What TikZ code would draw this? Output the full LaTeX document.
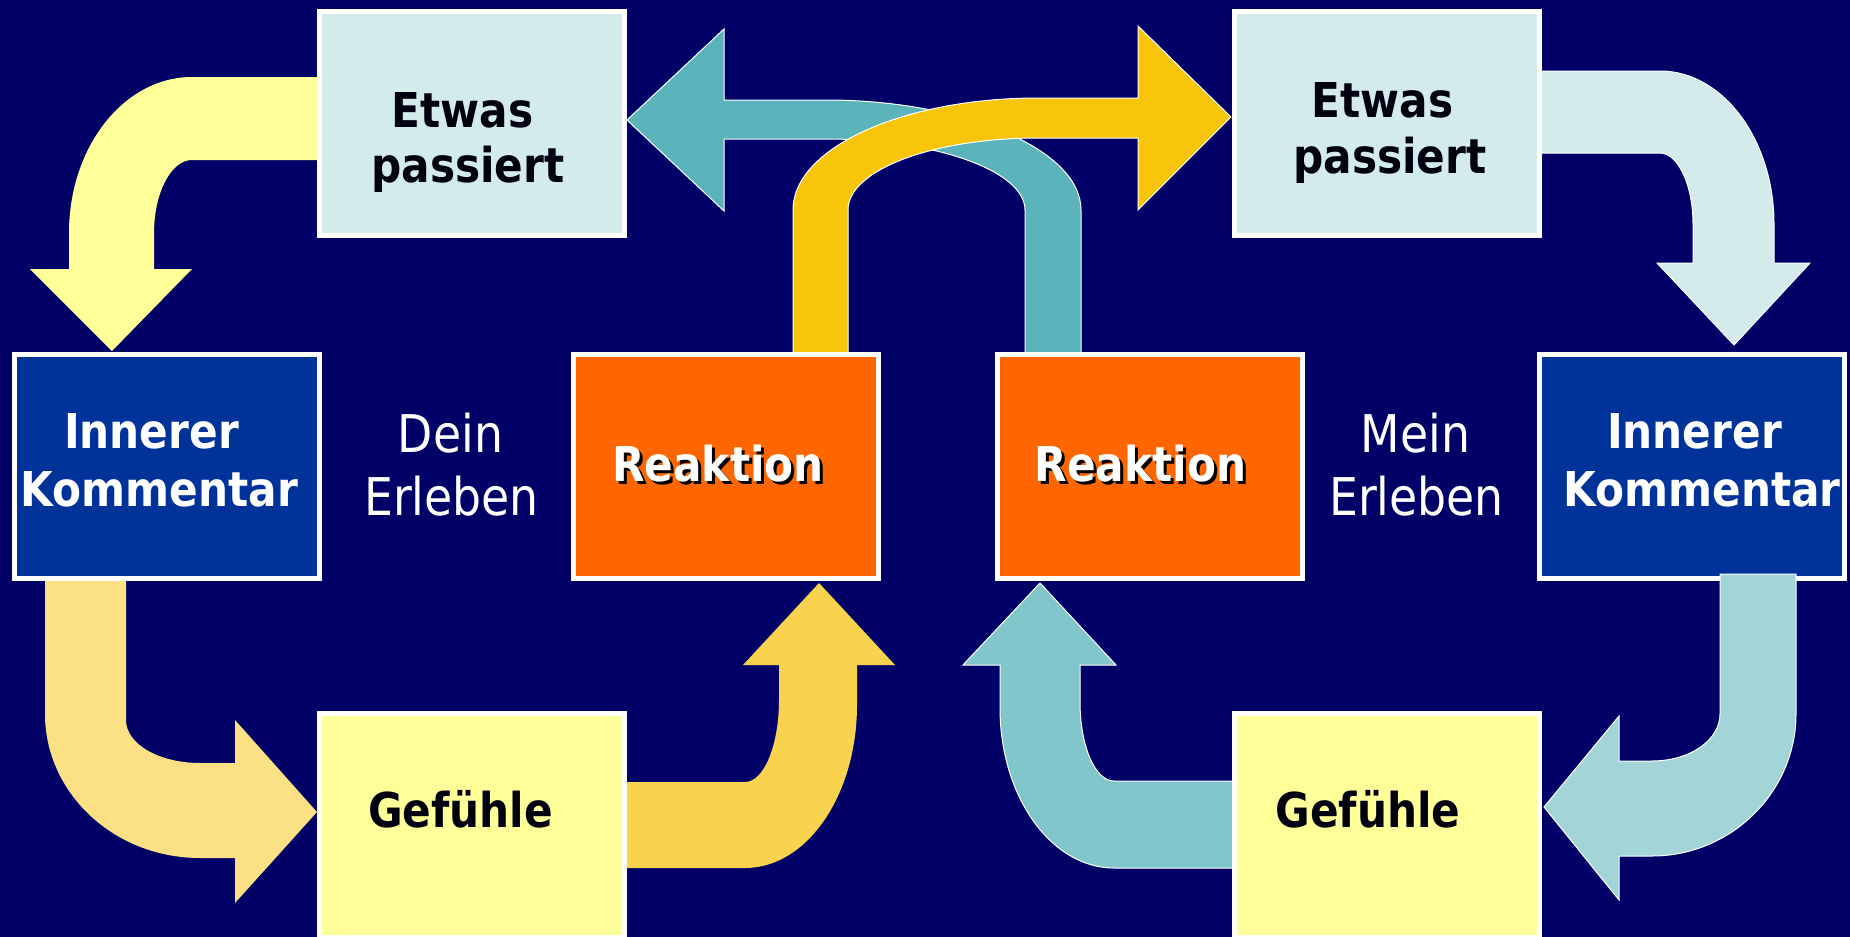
\documentclass[tikz,border=0pt]{standalone}
\usepackage{fontspec}
\setmainfont{DejaVu Sans}[FakeStretch=0.88]
\definecolor{bgnavy}{HTML}{000066}
\definecolor{epfill}{HTML}{D4EBEC}
\definecolor{ikfill}{HTML}{003399}
\definecolor{rfill}{HTML}{FF6600}
\definecolor{gfill}{HTML}{FFFF99}
\definecolor{arrA}{HTML}{FFFF99}
\definecolor{arrB}{HTML}{FCE084}
\definecolor{arrC}{HTML}{F9D34D}
\definecolor{arrD}{HTML}{A3D5D8}
\definecolor{arrE}{HTML}{80C6CA}
\definecolor{arrF}{HTML}{D4EBEC}
\definecolor{arrG}{HTML}{5BB3BB}
\definecolor{arrH}{HTML}{F8C50A}
\definecolor{darktext}{HTML}{00000F}
\tikzset{
  boxnode/.style={draw=white, line width=5pt, minimum width=305pt, minimum height=224pt, inner sep=0pt},
  boldlbl/.style={anchor=base, inner sep=0pt, font=\fontsize{48}{56}\selectfont\bfseries},
  reglbl/.style={anchor=base, inner sep=0pt, text=white, font=\fontsize{52}{64}\selectfont},
  blockarrow/.style={draw=white, line width=1pt},
}
\begin{document}
\begin{tikzpicture}[x=1pt,y=-1pt]
\useasboundingbox (0,0) rectangle (1850,937);
\fill[bgnavy] (0,0) rectangle (1850,937);

% ---- block arrows (under boxes) ----
% top-left: Etwas passiert -> Innerer Kommentar
\fill[arrA] (320,77) -- (192,77) .. controls (124,77) and (69,147) .. (69,233) -- (69,269) -- (30,269) -- (112,351) -- (192,269) -- (154,269) -- (154,233) .. controls (154,193) and (171,160) .. (192,160) -- (320,160) -- cycle;
% bottom-left: Innerer Kommentar -> Gefuehle
\fill[arrB] (45,578) -- (45,714) .. controls (45,793) and (114,858) .. (200,858) -- (235,858) -- (235,903) -- (317,812) -- (235,720) -- (235,763) -- (200,763) .. controls (159,763) and (126,744) .. (126,720) -- (126,578) -- cycle;
% bottom-middle: Gefuehle -> Reaktion
\fill[arrC] (624,782) -- (745,782) .. controls (764,782) and (779,745) .. (779,700) -- (779,665) -- (743,665) -- (819,583) -- (895,665) -- (857,665) -- (857,705) .. controls (857,795) and (807,868) .. (745,868) -- (624,868) -- cycle;
% bottom-right: Gefuehle -> Reaktion (right)
\filldraw[arrE, blockarrow] (1235,781) -- (1114,781) .. controls (1095,781) and (1080,746) .. (1080,702) -- (1080,665) -- (1116,665) -- (1040,583) -- (963,665) -- (1000,665) -- (1000,708) .. controls (1000,796) and (1051,868) .. (1114,868) -- (1235,868) -- cycle;
% top-right: Etwas passiert -> Innerer Kommentar (right)
\filldraw[arrF, blockarrow] (1539,71) -- (1660,71) .. controls (1723,71) and (1774,140) .. (1774,224) -- (1774,263) -- (1810,263) -- (1734,345) -- (1657,263) -- (1693,263) -- (1693,224) .. controls (1693,185) and (1678,153) .. (1660,153) -- (1539,153) -- cycle;
% top teal: Reaktion (right) -> Etwas passiert (left)
\filldraw[arrG, blockarrow] (1081,354) -- (1081,210) .. controls (1081,149) and (963,100) .. (826,100) -- (724,100) -- (724,29) -- (627,120) -- (724,211) -- (724,139) -- (826,139) .. controls (936,139) and (1025,171) .. (1025,210) -- (1025,354) -- cycle;
% top yellow: Reaktion (left) -> Etwas passiert (right)
\filldraw[arrH, blockarrow] (793,354) -- (793,210) .. controls (793,148) and (903,98) .. (1038,98) -- (1138,98) -- (1138,26) -- (1231,117) -- (1138,210) -- (1138,138) -- (1038,138) .. controls (933,138) and (848,170) .. (848,210) -- (848,354) -- cycle;

% ---- boxes ----
\node[boxnode, fill=epfill] (ep1) at (472,123) {};
\node[boxnode, fill=epfill] (ep2) at (1387,123) {};
\node[boxnode, fill=ikfill] (ik1) at (167,466.5) {};
\node[boxnode, fill=ikfill] (ik2) at (1691.5,466.5) {};
\node[boxnode, fill=rfill] (r1) at (725.5,466.5) {};
\node[boxnode, fill=rfill] (r2) at (1149.5,466.5) {};
\node[boxnode, fill=gfill] (g1) at (472,825.5) {};
\node[boxnode, fill=gfill] (g2) at (1387,825.5) {};

% right-side arrow drawn over the box border: Innerer Kommentar (right) -> Gefuehle (right)
\filldraw[arrD, blockarrow] (1720,574) -- (1720,714) .. controls (1720,740) and (1690,761) .. (1652,761) -- (1619,761) -- (1619,716) -- (1544,807) -- (1619,900) -- (1619,856) -- (1652,856) .. controls (1731,856) and (1796,792) .. (1796,714) -- (1796,574) -- cycle;

% ---- texts ----
\node[boldlbl, text=darktext] (ep1a) at (462.5,127) {Etwas};
\node[boldlbl, text=darktext] (ep1b) at (468,182) {passiert};
\node[boldlbl, text=darktext] (ep2a) at (1382.5,117) {Etwas};
\node[boldlbl, text=darktext] (ep2b) at (1390,173) {passiert};

\node[boldlbl, text=white] (ik1a) at (151.5,448) {Innerer};
\node[boldlbl, text=white] (ik1b) at (159.5,506) {Kommentar};
\node[boldlbl, text=white] (ik2a) at (1694.5,448) {Innerer};
\node[boldlbl, text=white] (ik2b) at (1702,506) {Kommentar};

\node[boldlbl, text=black] (r1s) at (721,484) {Reaktion};
\node[boldlbl, text=white] (r1t) at (718,481) {Reaktion};
\node[boldlbl, text=black] (r2s) at (1143.5,484) {Reaktion};
\node[boldlbl, text=white] (r2t) at (1140.5,481) {Reaktion};

\node[boldlbl, text=darktext] (g1t) at (460.5,827) {Gefühle};
\node[boldlbl, text=darktext] (g2t) at (1368,827) {Gefühle};

\node[reglbl] (de1) at (450.5,452) {Dein};
\node[reglbl] (de2) at (451.5,515) {Erleben};
\node[reglbl] (me1) at (1415.5,452) {Mein};
\node[reglbl] (me2) at (1416.5,515) {Erleben};
\end{tikzpicture}
\end{document}
